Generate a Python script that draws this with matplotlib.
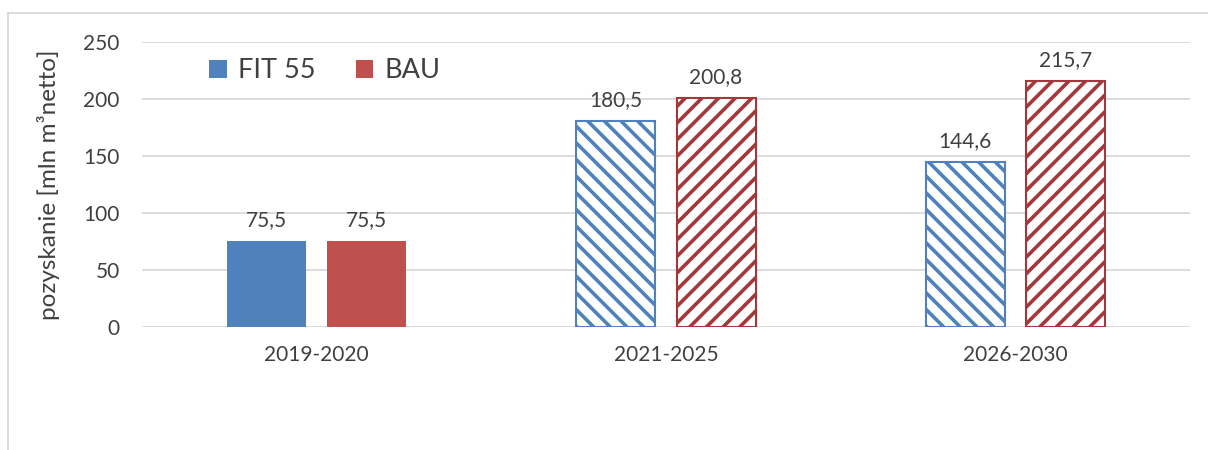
import numpy as np
import matplotlib
matplotlib.use("Agg")
import matplotlib.pyplot as plt
from matplotlib.lines import Line2D
from matplotlib.patches import Patch

plt.rcParams['font.family'] = ['Lato', 'DejaVu Sans']
plt.rcParams['hatch.linewidth'] = 2.6

periods = ["2019-2020", "2021-2025", "2026-2030"]
fit55 = [75.5, 180.5, 144.6]
bau = [75.5, 200.8, 215.7]
hatched = [False, True, True]

blue = "#4F81BD"
red_solid = "#C0504D"
red_hatch = "#A3383A"
txt = "#404040"

fig = plt.figure(figsize=(12.08, 4.5), dpi=100)
ax = fig.add_axes([0.1175, 0.2733, 0.8675, 0.6334])

x = np.arange(len(periods))
w = 0.226
off = 0.1435

for i in range(len(periods)):
    if hatched[i]:
        ax.bar(x[i] - off, fit55[i], w, facecolor="white", edgecolor=blue,
               hatch="\\\\", linewidth=1.5, zorder=3)
        ax.bar(x[i] + off, bau[i], w, facecolor="white", edgecolor=red_hatch,
               hatch="//", linewidth=1.5, zorder=3)
    else:
        ax.bar(x[i] - off, fit55[i], w, color=blue, zorder=3)
        ax.bar(x[i] + off, bau[i], w, color=red_solid, zorder=3)
    for xx, v in [(x[i] - off, fit55[i]), (x[i] + off, bau[i])]:
        ax.annotate(f"{v:.1f}".replace(".", ","), (xx, v), xytext=(0, 8),
                    textcoords="offset points", ha="center", va="bottom",
                    fontsize=15, color=txt)

ax.set_xlim(-0.5, 2.5)
ax.set_ylim(0, 250)
ax.set_yticks(range(0, 251, 50))
ax.set_xticks(x)
ax.set_xticklabels(periods)
ax.tick_params(axis="both", length=0, labelsize=15, labelcolor=txt)
ax.tick_params(axis="x", pad=13)
ax.tick_params(axis="y", pad=16)
ax.grid(axis="y", color="#D9D9D9", linewidth=1.3, zorder=0)
for s in ax.spines.values():
    s.set_visible(False)
ax.set_ylabel("pozyskanie [mln m³netto]", fontsize=17.5, color=txt, labelpad=17)

handles = [Patch(facecolor=blue), Patch(facecolor=red_solid)]
ax.legend(handles, ["FIT 55", "BAU"], loc="upper left", ncol=2, frameon=False,
          fontsize=19.5, labelcolor=txt, handlelength=0.65, handleheight=0.65,
          handletextpad=0.4, columnspacing=1.5, borderpad=0.2,
          bbox_to_anchor=(0.046, 1.01))

# chart frame
fig.add_artist(Line2D([8 / 1208, 1.0], [1 - 13 / 450, 1 - 13 / 450],
                      transform=fig.transFigure, color="#D9D9D9", lw=1.3))
fig.add_artist(Line2D([8 / 1208, 8 / 1208], [0, 1 - 13 / 450],
                      transform=fig.transFigure, color="#D9D9D9", lw=1.3))

fig.savefig("out.png", dpi=100)
